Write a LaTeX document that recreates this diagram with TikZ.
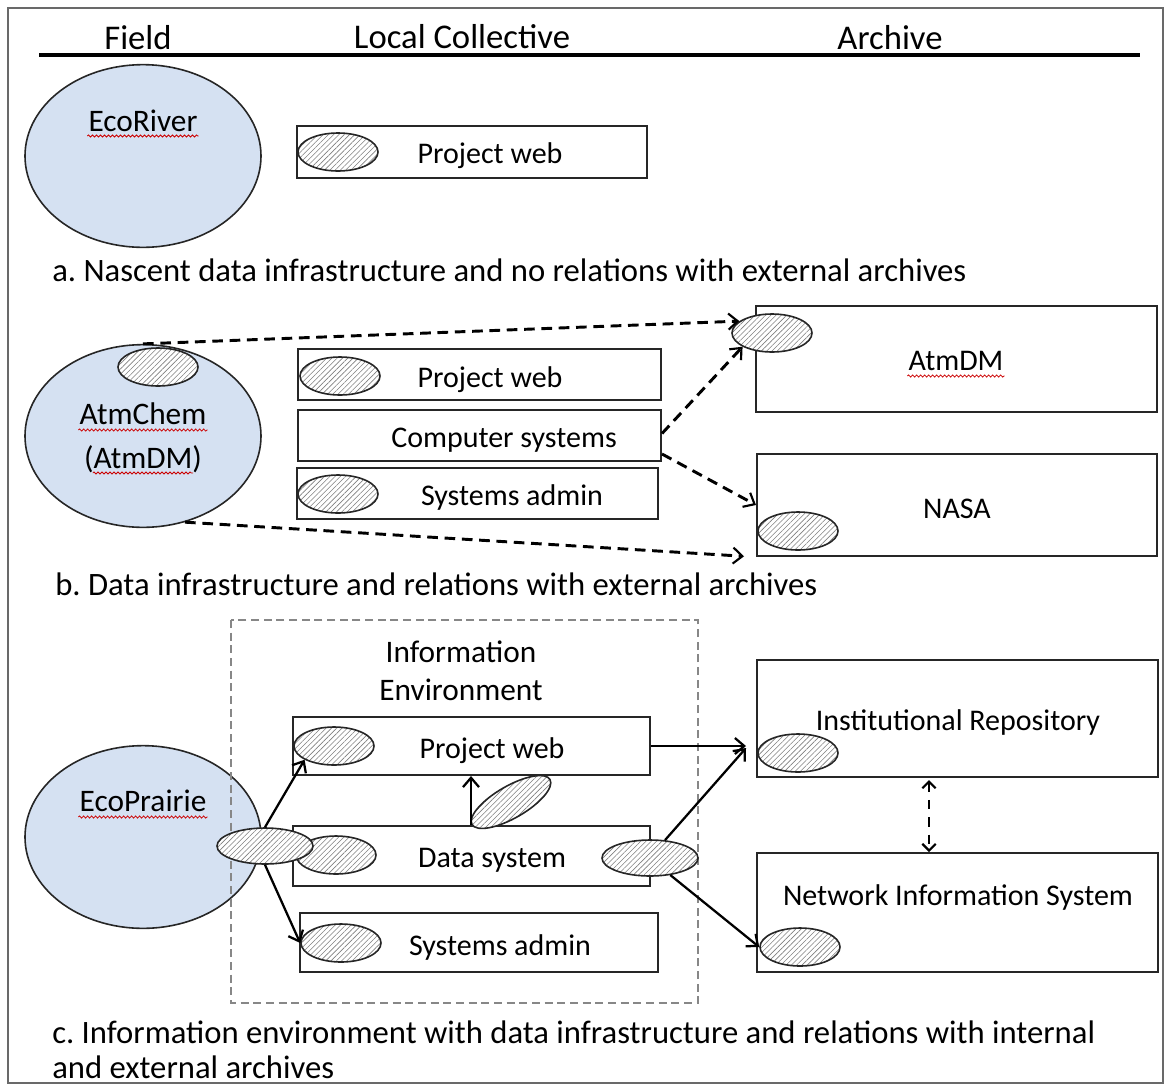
\documentclass[tikz,border=0pt]{standalone}
\usepackage{fontspec}
\setmainfont{Carlito}
\usetikzlibrary{shapes.geometric,arrows.meta,patterns.meta,calc,decorations.pathmorphing}
\definecolor{fieldblue}{RGB}{213,225,242}
\definecolor{framegray}{RGB}{105,105,105}

\begin{document}
\frenchspacing
\begin{tikzpicture}[x=0.75pt,y=0.75pt,yscale=-1,xscale=1,
    field/.style={ellipse, draw=black!85, line width=1.2pt, fill=fieldblue, minimum width=177pt, minimum height=137pt, inner sep=0pt},
    hatch/.style={ellipse, draw=black!85, line width=1.2pt, preaction={fill=white}, pattern={Lines[angle=45,distance=2.8pt,line width=.45pt]}, pattern color=black!50, minimum width=60pt, minimum height=28.5pt, inner sep=0pt},
    bighatch/.style={hatch, minimum width=72pt, minimum height=27pt},
    unit/.style={rectangle, draw=black!85, line width=1.5pt, fill=white, inner sep=0pt},
    boxtext/.style={font=\fontsize{22.5}{27}\selectfont, anchor=base, inner sep=0pt},
    fieldtext/.style={font=\fontsize{23.5}{28.5}\selectfont, anchor=base, inner sep=0pt},
    head/.style={font=\fontsize{26}{31}\selectfont, anchor=base, inner sep=0pt},
    caption/.style={font=\fontsize{24.5}{29}\selectfont, anchor=base west, inner sep=0pt},
    spell/.style={draw=red!80!black, line width=.6pt, decorate, decoration={snake, amplitude=.8pt, segment length=3pt}},
    dasharrow/.style={line width=2.2pt, dash pattern=on 8pt off 5pt, -{Straight Barb[length=7pt,width=12pt,line width=1.6pt]}},
    solidarrow/.style={line width=1.7pt, -{Straight Barb[length=7pt,width=12pt]}},
    twoway/.style={line width=2.2pt, dash pattern=on 7pt off 6pt, {Straight Barb[length=5pt,width=10pt,line width=1.6pt]}-{Straight Barb[length=5pt,width=10pt,line width=1.6pt]}}
  ]
    \useasboundingbox (0,0) rectangle (1167,1086);

    %Frame and header rule
    \draw[framegray, line width=1.7pt] (8,8) rectangle (1163,1083);
    \draw[line width=3pt] (39,55) -- (1140,55);

    % Text Node
    \node[head] (hfield) at (138,49) {Field};
    % Text Node
    \node[head] (hlocal) at (462,48) {Local Collective};
    % Text Node
    \node[head] (harchive) at (890,49) {Archive};

    %---------------- a ----------------
    %Shape: Ellipse
    \node[field] (ecoriver) at (143,156) {};
    %Shape: Rectangle
    \node[unit, minimum width=262.5pt, minimum height=39pt] (pwa) at (472,152) {};
    \node[hatch] (pwahat) at (338,152) {};

    % Text Node
    \node[fieldtext] (ecoriverlbl) at (143,131) {EcoRiver};
    % Text Node
    \node[boxtext] (pwalbl) at (490,163) {Project web};
    % Text Node
    \node[caption] (capa) at (52,281) {a. Nascent data infrastructure and no relations with external archives};

    %---------------- b ----------------
    %Shape: Ellipse
    \node[field] (atmchem) at (143,436) {};
    \node[hatch] (atmhat) at (158,367) {};
    %Shape: Rectangle
    \node[unit, minimum width=272.25pt, minimum height=38.25pt] (pwb) at (479.5,374.5) {};
    \node[hatch] (pwbhat) at (340,376) {};
    \node[unit, minimum width=272.25pt, minimum height=38.25pt] (csb) at (479.5,435.5) {};
    \node[unit, minimum width=270.75pt, minimum height=38.25pt] (sab) at (477.5,493.5) {};
    \node[hatch] (sabhat) at (338,494) {};
    \node[unit, minimum width=300.75pt, minimum height=79.5pt] (atmdm) at (956.5,359) {};
    \node[hatch] (atmdmhat) at (772,333) {};
    \node[unit, minimum width=300pt, minimum height=76.5pt] (nasa) at (957,505) {};
    \node[hatch] (nasahat) at (798,531) {};

    % Text Node
    \node[fieldtext] (atmchemlbl) at (143,424) {AtmChem};
    \node[fieldtext] (atmdmpar) at (143,468) {(AtmDM)};
    % Text Node
    \node[boxtext] (pwblbl) at (490,387) {Project web};
    \node[boxtext] (csblbl) at (504,447) {Computer systems};
    \node[boxtext] (sablbl) at (512,505) {Systems admin};
    \node[boxtext] (atmdmlbl) at (956,370) {AtmDM};
    \node[boxtext] (nasalbl) at (957,518) {NASA};
    % Text Node
    \node[caption] (capb) at (55,595) {b. Data infrastructure and relations with external archives};

    %Straight Lines
    \draw[dasharrow] (atmchem.north) -- (atmdmhat.160);
    \draw[dasharrow] ($(csb.east)+(0,-2)$) -- (atmdmhat.205);
    \draw[dasharrow] ($(csb.south east)+(0,-8)$) -- (nasa.west);
    \draw[dasharrow, shorten >=9pt] (atmchem.-64) -- (nasa.south west);

    %---------------- c ----------------
    %Shape: Ellipse
    \node[field] (ecoprairie) at (143,837) {};
    %Shape: Rectangle
    \draw[framegray!80, line width=1.6pt, dash pattern=on 6pt off 3.5pt] (231,620) rectangle (698,1003);
    \node[unit, minimum width=267.75pt, minimum height=43.5pt] (pwc) at (471.5,746) {};
    \node[hatch] (pwchat) at (334,746) {};
    \node[unit, minimum width=267.75pt, minimum height=45pt] (dsc) at (471.5,856) {};
    \node[hatch] (dschat) at (336,855) {};
    \node[unit, minimum width=268.5pt, minimum height=44.25pt] (sac) at (479,942.5) {};
    \node[hatch] (sachat) at (341,943) {};
    \node[hatch, minimum width=67.5pt, minimum height=24pt, rotate=30] (tilthat) at (511,802) {};
    \node[bighatch] (pphat) at (265,846) {};
    \node[bighatch] (dsrhat) at (650,858) {};
    \node[unit, minimum width=300.75pt, minimum height=87.75pt] (ir) at (957.5,718.5) {};
    \node[hatch] (irhat) at (798,753) {};
    \node[unit, minimum width=300.75pt, minimum height=89.25pt] (nis) at (957.5,912.5) {};
    \node[hatch] (nishat) at (800,947) {};
    \coordinate (irin) at (746,748);

    % Text Node
    \node[fieldtext] (ecoprairielbl) at (143,811) {EcoPrairie};
    \node[fieldtext] (infolbl) at (461,662) {Information};
    \node[fieldtext] (envlbl) at (461,700) {Environment};
    % Text Node
    \node[boxtext] (pwclbl) at (492,758) {Project web};
    \node[boxtext] (dsclbl) at (492,867) {Data system};
    \node[boxtext] (saclbl) at (500,955) {Systems admin};
    \node[boxtext] (irlbl) at (958,730) {Institutional Repository};
    \node[boxtext] (nislbl) at (958,905) {Network Information System};
    % Text Node
    \node[caption] (capc) at (52,1043) {c. Information environment with data infrastructure and relations with internal};
    \node[caption] (capc2) at (52,1078) {and external archives};

    %Straight Lines
    \draw[solidarrow] (pphat.north) -- (pwchat.205);
    \draw[solidarrow] (pphat.south) -- (sachat.west);
    \draw[solidarrow] ($(dsc.north west)+(179,0)$) -- ($(pwc.south west)+(179,0)$);
    \draw[solidarrow] (pwc.east) -- (pwc.east -| irin);
    \draw[solidarrow] (dsrhat.50) -- (irin);
    \draw[solidarrow] (dsrhat.-40) -- (nishat.west);
    \draw[twoway] ($(ir.south west)+(173,2)$) -- ($(nis.north west)+(173,0)$);

    %Spelling marks
    \draw[spell] ($(ecoriverlbl.base west)+(-1,5)$) -- ($(ecoriverlbl.base east)+(1,5)$);
    \draw[spell] ($(atmchemlbl.base west)+(-1,6)$) -- ($(atmchemlbl.base east)+(1,6)$);
    \draw[spell] ($(atmdmpar.base west)+(9,5)$) -- ($(atmdmpar.base east)+(-9,5)$);
    \draw[spell] ($(atmdmlbl.base west)+(-1,6)$) -- ($(atmdmlbl.base east)+(1,6)$);
    \draw[spell] ($(ecoprairielbl.base west)+(-1,6)$) -- ($(ecoprairielbl.base east)+(1,6)$);

\end{tikzpicture}
\end{document}
